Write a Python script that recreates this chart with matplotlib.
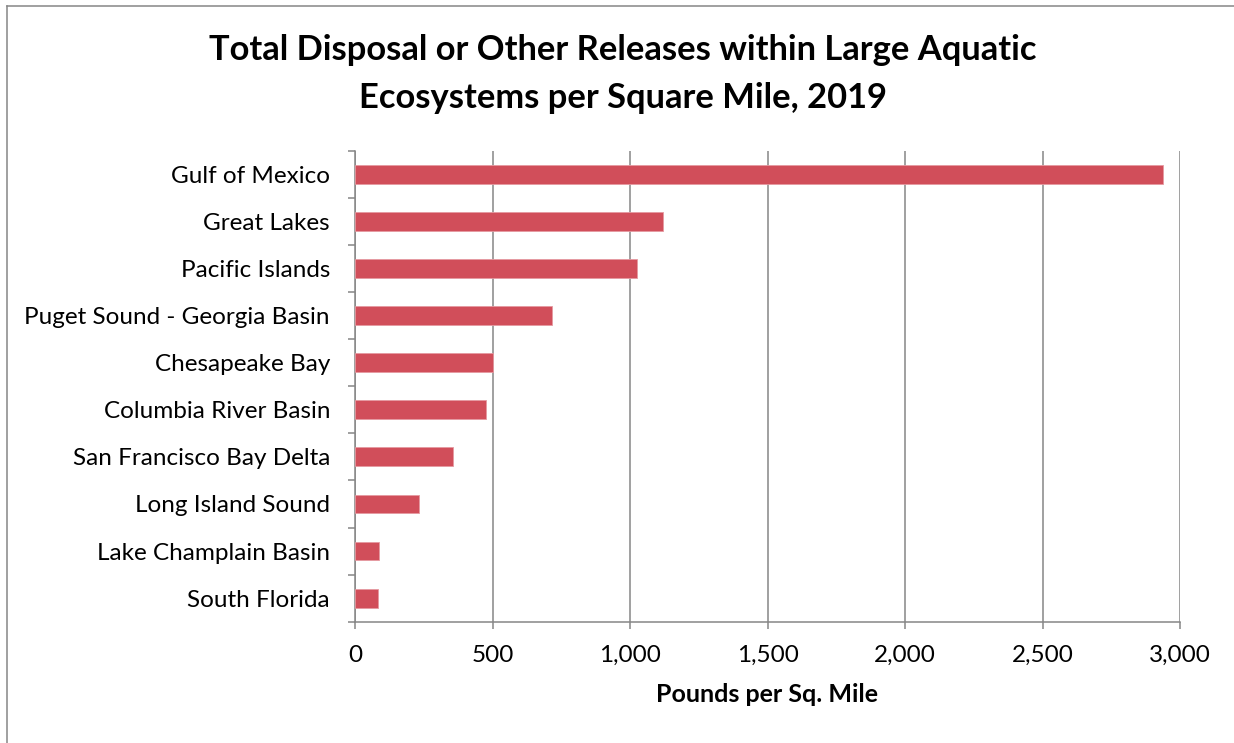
import matplotlib.pyplot as plt
import numpy as np
from matplotlib.lines import Line2D

ecosystems = ['Gulf of Mexico', 'Great Lakes', 'Pacific Islands', 'Puget Sound - Georgia Basin',
              'Chesapeake Bay', 'Columbia River Basin', 'San Francisco Bay Delta',
              'Long Island Sound', 'Lake Champlain Basin', 'South Florida']
pounds_per_sq_mile = [2939, 1119, 1027, 716, 502, 476, 355, 232, 86, 83]
x_ticks = [0, 500, 1000, 1500, 2000, 2500, 3000]

bar_color = '#D14E5A'
grid_color = '#868686'
font = 'Lato'

fig = plt.figure(figsize=(12.34, 7.43), dpi=100)
ax = fig.add_axes([355 / 1234, 121.3 / 743, 825 / 1234, 471 / 743])

y = np.arange(len(ecosystems))
ax.barh(y, pounds_per_sq_mile, height=0.4, color=bar_color, edgecolor='#E59AA1', linewidth=0.6, zorder=3)

ax.set_xlim(0, 3000)
ax.set_ylim(len(ecosystems) - 0.5, -0.5)

ax.set_xticks(x_ticks)
ax.set_xticklabels(['{:,}'.format(v) for v in x_ticks], fontsize=17.5, family=font)
ax.set_yticks(y)
ax.set_yticklabels(ecosystems, fontsize=17.5, family=font)
ax.set_yticks(np.arange(-0.5, len(ecosystems)), minor=True)

ax.tick_params(axis='y', which='major', length=0, pad=18)
ax.tick_params(axis='y', which='minor', length=5, width=1.1, color=grid_color, direction='out')
ax.tick_params(axis='x', which='major', length=5, width=1.1, color=grid_color, direction='out', pad=12)

ax.grid(axis='x', color=grid_color, linewidth=1.1, zorder=0)
for s in ['top', 'right']:
    ax.spines[s].set_visible(False)
for s in ['left', 'bottom']:
    ax.spines[s].set_color(grid_color)
    ax.spines[s].set_linewidth(1.1)

ax.set_xlabel('Pounds per Sq. Mile', fontsize=18, fontweight='bold', family=font, labelpad=12)

fig.text(0.505, 1 - 74 / 743, 'Total Disposal or Other Releases within Large Aquatic\nEcosystems per Square Mile, 2019',
         ha='center', va='center', fontsize=24.8, fontweight='bold', family=font, linespacing=1.6)

# chart border (left and top edges visible)
fig.add_artist(Line2D([7 / 1234, 7 / 1234], [0, 1 - 6 / 743], color=grid_color, linewidth=1.1, transform=fig.transFigure))
fig.add_artist(Line2D([7 / 1234, 1], [1 - 6 / 743, 1 - 6 / 743], color=grid_color, linewidth=1.1, transform=fig.transFigure))

fig.savefig('out.png', dpi=100)
